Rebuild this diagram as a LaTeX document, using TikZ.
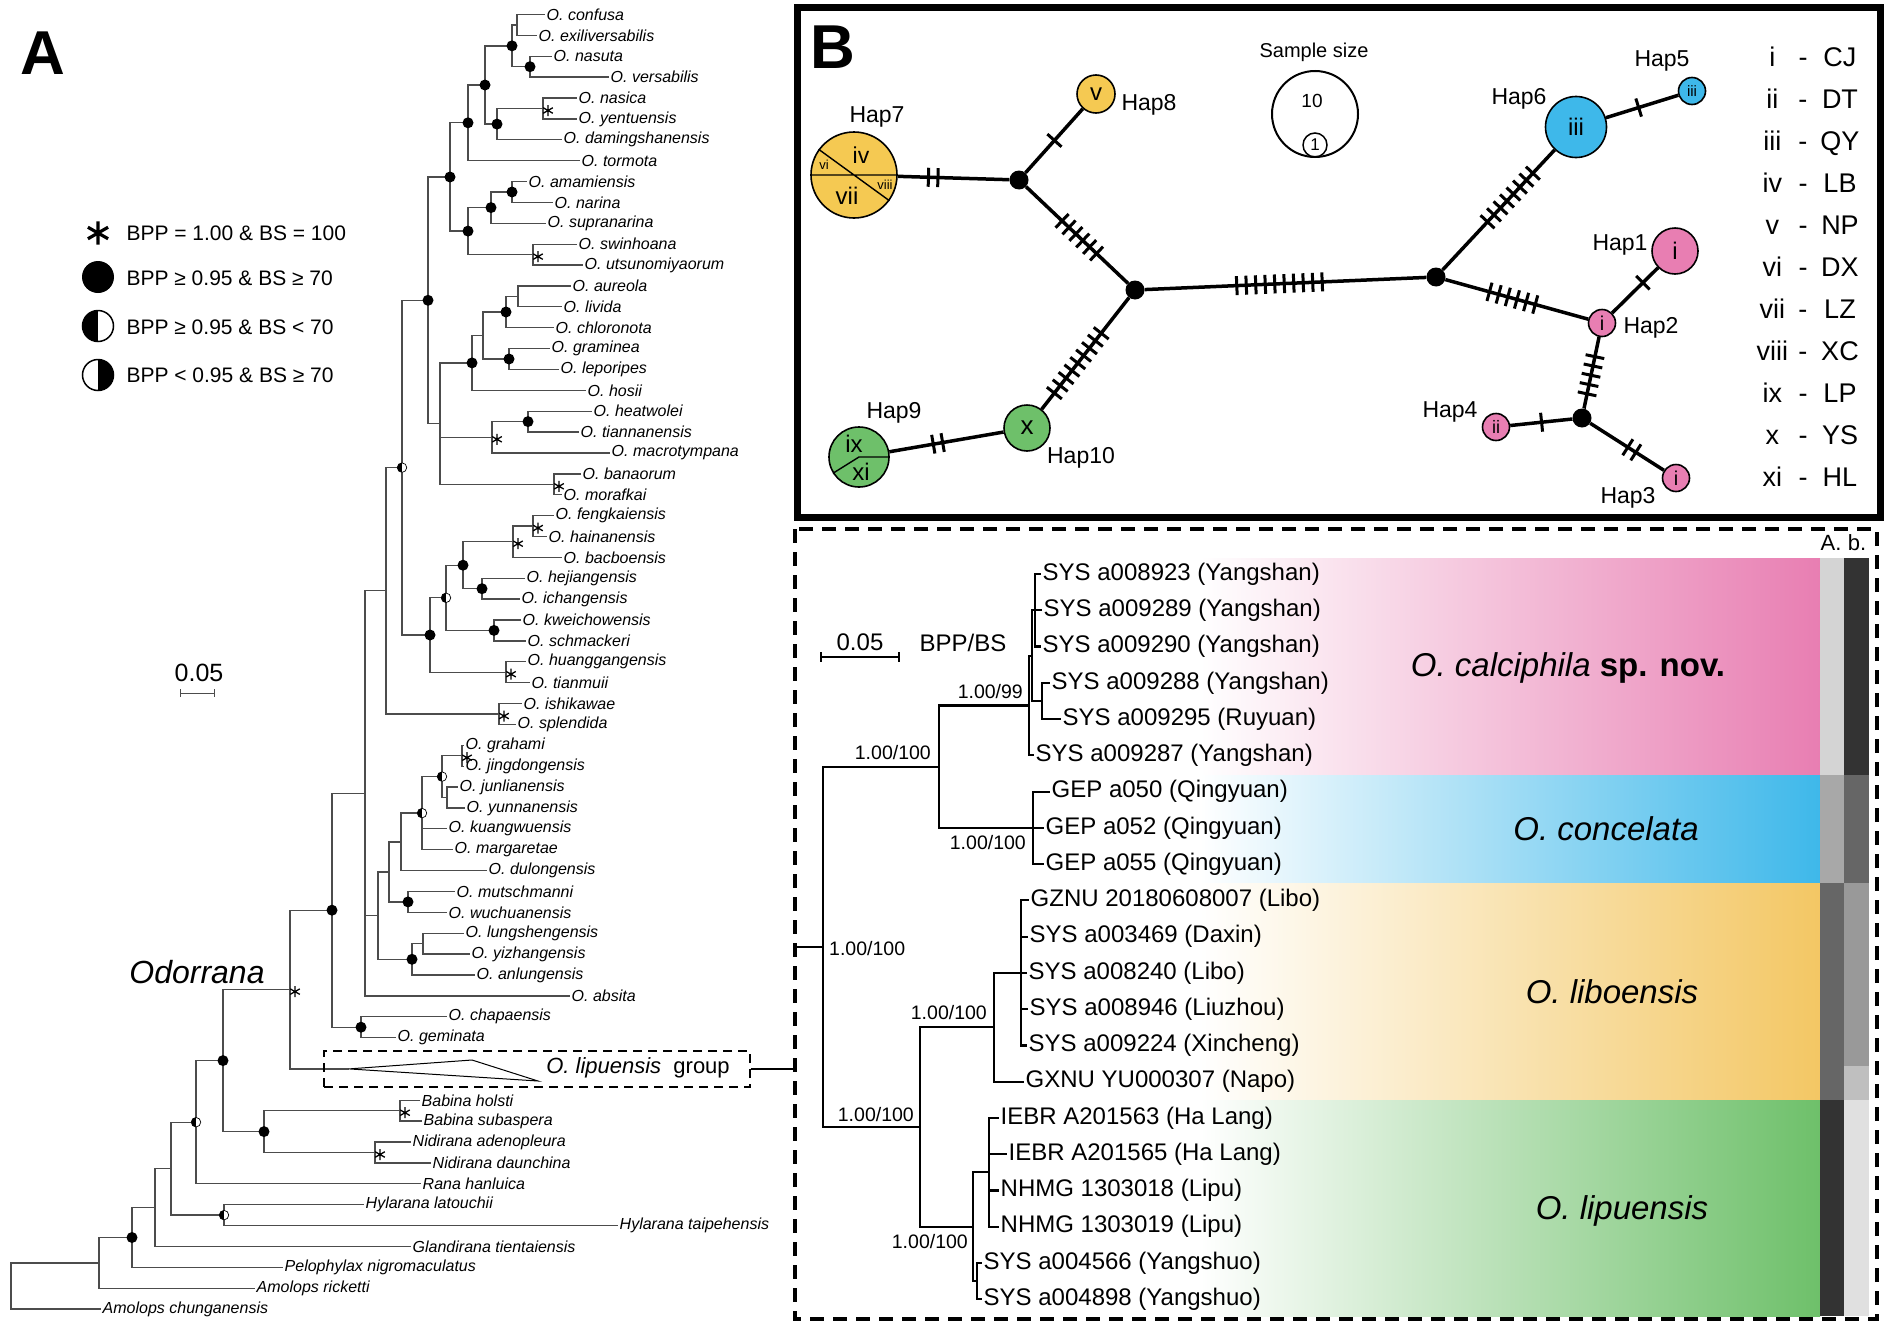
\documentclass[tikz,border=0pt]{standalone}
\usepackage{fontspec}
\setmainfont{Liberation Sans}
\usepackage{xcolor}
\usepackage{tikz}
\usetikzlibrary{calc,arrows}

\definecolor{hapyellow}{RGB}{245,201,82}
\definecolor{hapblue}{RGB}{62,184,234}
\definecolor{happink}{RGB}{232,126,178}
\definecolor{hapgreen}{RGB}{110,192,106}
\definecolor{bandorange}{RGB}{243,199,100}

\begin{document}
\begin{tikzpicture}[
    x=1pt, y=-1pt,
    br/.style={draw=black!70, line width=1.3pt},
    leaf/.style={anchor=west, inner sep=1.5pt, font=\fontsize{16}{18}\selectfont\itshape},
    dot/.style={circle, fill=black, inner sep=0pt, minimum size=11pt},
    half/.style={circle, draw, line width=0.7pt, fill=white, inner sep=0pt, minimum size=9.5pt,
        path picture={\fill[black] (path picture bounding box.south west) rectangle (path picture bounding box.north);}},
    halfr/.style={circle, draw, line width=1.5pt, fill=white, inner sep=0pt, minimum size=31pt,
        path picture={\fill[black] (path picture bounding box.north) rectangle (path picture bounding box.south east);}},
    astw/.style={line width=1.3pt},
    ast/.pic={\draw (0,-5.5) -- (0,5.5) (-4.8,-2.75) -- (4.8,2.75) (-4.8,2.75) -- (4.8,-2.75);},
    keytext/.style={anchor=west, font=\fontsize{21}{24}\selectfont},
    hap/.style={circle, draw, line width=1.6pt, inner sep=0pt, font=\fontsize{24}{24}\selectfont},
    mv/.style={circle, fill=black, inner sep=0pt, minimum size=19pt},
    link/.style={line width=3.5pt},
    mut/.style={line width=3pt},
    haplab/.style={font=\fontsize{23}{26}\selectfont},
    cb/.style={line width=2.2pt},
    tipl/.style={anchor=west, inner sep=1.5pt, font=\fontsize{24}{28}\selectfont},
    sup/.style={inner sep=1pt, font=\fontsize{19.5}{21}\selectfont},
    species/.style={font=\fontsize{33}{36}\selectfont}
]

\fill[white] (0,0) rectangle (1895,1325);
\useasboundingbox (0,0) rectangle (1895,1325);

% ---------------- Panel A ----------------
\node[font=\fontsize{62}{62}\selectfont\bfseries] (labA) at (43,53) {A};

% Legend
\pic[scale=2.1, line width=3.2pt] at (98,233) {ast};
\node[circle, fill=black, inner sep=0pt, minimum size=32pt] (lgDot) at (98,277) {};
\node[half, minimum size=31pt, line width=1.5pt] (lgHalf) at (98,326) {};
\node[halfr] (lgHalfR) at (98,375) {};
\node[keytext] (lgT1) at (123,233) {BPP = 1.00 \& BS = 100};
\node[keytext] (lgT2) at (123,278) {BPP ≥ 0.95 \& BS ≥ 70};
\node[keytext] (lgT3) at (123,327) {BPP ≥ 0.95 \& BS < 70};
\node[keytext] (lgT4) at (123,375) {BPP < 0.95 \& BS ≥ 70};

% Scale
\node[font=\fontsize{25}{28}\selectfont] (scaleA) at (199,673) {0.05};
\draw[|-|, line width=1pt, black!70] (180,693) -- (215,693);
\node[font=\fontsize{32}{36}\selectfont\itshape] (odo) at (197,972) {Odorrana};

% Leaves
\node[leaf] (confusa) at (545,14.5) {O. confusa};
\node[leaf] (exili) at (537,35.4) {O. exiliversabilis};
\node[leaf] (nasuta) at (552,56.3) {O. nasuta};
\node[leaf] (versabilis) at (609,77.1) {O. versabilis};
\node[leaf] (nasica) at (577,98.0) {O. nasica};
\node[leaf] (yentuensis) at (577,118.9) {O. yentuensis};
\node[leaf] (daming) at (562,139.8) {O. damingshanensis};
\node[leaf] (tormota) at (580,160.7) {O. tormota};
\node[leaf] (amamiensis) at (527,181.5) {O. amamiensis};
\node[leaf] (narina) at (553,202.4) {O. narina};
\node[leaf] (supranarina) at (546,223.3) {O. supranarina};
\node[leaf] (swinhoana) at (577,244.2) {O. swinhoana};
\node[leaf] (utsuno) at (583,265.1) {O. utsunomiyaorum};
\node[leaf] (aureola) at (571,285.9) {O. aureola};
\node[leaf] (livida) at (562,306.8) {O. livida};
\node[leaf] (chloronota) at (554,327.7) {O. chloronota};
\node[leaf] (graminea) at (550,348.6) {O. graminea};
\node[leaf] (leporipes) at (559,369.5) {O. leporipes};
\node[leaf] (hosii) at (586,390.3) {O. hosii};
\node[leaf] (heatwolei) at (592,411.2) {O. heatwolei};
\node[leaf] (tiannan) at (579,432.1) {O. tiannanensis};
\node[leaf] (macroty) at (610,453.0) {O. macrotympana};
\node[leaf] (banaorum) at (581,473.9) {O. banaorum};
\node[leaf] (morafkai) at (562,494.7) {O. morafkai};
\node[leaf] (fengkai) at (554,515.6) {O. fengkaiensis};
\node[leaf] (hainan) at (547,536.5) {O. hainanensis};
\node[leaf] (bacbo) at (562,557.4) {O. bacboensis};
\node[leaf] (hejiang) at (525,578.3) {O. hejiangensis};
\node[leaf] (ichang) at (520,599.1) {O. ichangensis};
\node[leaf] (kweichow) at (521,620.0) {O. kweichowensis};
\node[leaf] (schmack) at (526,640.9) {O. schmackeri};
\node[leaf] (huanggang) at (526,661.8) {O. huanggangensis};
\node[leaf] (tianmuii) at (530,682.7) {O. tianmuii};
\node[leaf] (ishikawae) at (522,703.5) {O. ishikawae};
\node[leaf] (splendida) at (516,724.4) {O. splendida};
\node[leaf] (grahami) at (464,745.3) {O. grahami};
\node[leaf] (jingdong) at (464,766.2) {O. jingdongensis};
\node[leaf] (junlian) at (458,787.1) {O. junlianensis};
\node[leaf] (yunnan) at (465,807.9) {O. yunnanensis};
\node[leaf] (kuangwu) at (447,828.8) {O. kuangwuensis};
\node[leaf] (margaretae) at (453,849.7) {O. margaretae};
\node[leaf] (dulong) at (487,870.6) {O. dulongensis};
\node[leaf] (mutsch) at (455,891.5) {O. mutschmanni};
\node[leaf] (wuchuan) at (447,912.3) {O. wuchuanensis};
\node[leaf] (lungsheng) at (464,933.2) {O. lungshengensis};
\node[leaf] (yizhang) at (470,954.1) {O. yizhangensis};
\node[leaf] (anlung) at (475,975.0) {O. anlungensis};
\node[leaf] (absita) at (570,995.9) {O. absita};
\node[leaf] (chapa) at (447,1016.7) {O. chapaensis};
\node[leaf] (geminata) at (396,1037.6) {O. geminata};
\node[leaf] (holsti) at (420,1100.3) {Babina holsti};
\node[leaf] (subaspera) at (422,1121.1) {Babina subaspera};
\node[leaf] (adenop) at (411,1142.0) {Nidirana adenopleura};
\node[leaf] (daunch) at (431,1162.9) {Nidirana daunchina};
\node[leaf] (hanluica) at (421,1183.8) {Rana hanluica};
\node[leaf] (latouchii) at (364,1204.7) {Hylarana latouchii};
\node[leaf] (taipeh) at (618,1225.5) {Hylarana taipehensis};
\node[leaf] (tientai) at (411,1246.4) {Glandirana tientaiensis};
\node[leaf] (pelophylax) at (283,1267.3) {Pelophylax nigromaculatus};
\node[leaf] (ricketti) at (255,1288.2) {Amolops ricketti};
\node[leaf] (chungan) at (101,1309.1) {Amolops chunganensis};

% Internal nodes
\coordinate (nConfEx) at (517,25.0);
\coordinate (nNasVer) at (530,66.7);
\coordinate (nA1) at (512,45.85);
\coordinate (nNasYen) at (543,108.5);
\coordinate (nDam) at (497,124.1);
\coordinate (nA2) at (485,85.0);
\coordinate (nA3) at (468,122.8);
\coordinate (nAmNar) at (512,192.0);
\coordinate (nSupra) at (491,207.6);
\coordinate (nSwUt) at (533,254.6);
\coordinate (nA4) at (468,231.1);
\coordinate (nA5) at (450,177.0);
\coordinate (nAurLiv) at (518,296.4);
\coordinate (nChl) at (506,312.0);
\coordinate (nGraLep) at (509,359.0);
\coordinate (nB1) at (483,335.5);
\coordinate (nHos) at (472,362.9);
\coordinate (nHeaTia) at (528,421.6);
\coordinate (nMac) at (492,437.3);
\coordinate (nBanMor) at (554,484.3);
\coordinate (nB2) at (440,423.6);
\coordinate (nAB) at (428,300.3);
\coordinate (nFenHai) at (533,526.0);
\coordinate (nBac) at (513,541.7);
\coordinate (nHejIch) at (482,588.7);
\coordinate (nC1) at (463,565.2);
\coordinate (nKweSch) at (494,630.4);
\coordinate (nC2) at (446,597.8);
\coordinate (nHuaTia) at (506,672.2);
\coordinate (nC3) at (430,635.0);
\coordinate (nABC) at (402,467.6);
\coordinate (nIshSpl) at (499,714.0);
\coordinate (nD) at (386,590.8);
\coordinate (nGraJin) at (462,755.7);
\coordinate (nJunYun) at (447,797.5);
\coordinate (nE1) at (442,776.6);
\coordinate (nE2) at (422,813.1);
\coordinate (nE3) at (401,841.9);
\coordinate (nMutWu) at (408,901.9);
\coordinate (nE4) at (389,871.9);
\coordinate (nLunYiz) at (423,943.6);
\coordinate (nAnl) at (412,959.3);
\coordinate (nE5) at (378,915.6);
\coordinate (nF) at (365,793.3);
\coordinate (nChaGem) at (361,1027.2);
\coordinate (nG) at (332,910.2);
\coordinate (nOdo) at (290,989.6);
\coordinate (nBabina) at (400,1110.7);
\coordinate (nNidi) at (375,1152.5);
\coordinate (nBN) at (264,1131.6);
\coordinate (nH) at (223,1060.6);
\coordinate (nRana) at (196,1122.2);
\coordinate (nHyl) at (224,1215.1);
\coordinate (nI) at (171,1168.7);
\coordinate (nGla) at (155,1207.6);
\coordinate (nPel) at (132,1237.5);
\coordinate (nAmo) at (99,1262.9);
\coordinate (nRoot) at (11,1286.0);

% Branches
\draw[br] (nConfEx) |- (confusa.west) (nConfEx) |- (exili.west);
\draw[br] (nNasVer) |- (nasuta.west) (nNasVer) |- (versabilis.west);
\draw[br] (nA1) |- (nConfEx) (nA1) |- (nNasVer);
\draw[br] (nNasYen) |- (nasica.west) (nNasYen) |- (yentuensis.west);
\draw[br] (nDam) |- (nNasYen) (nDam) |- (daming.west);
\draw[br] (nA2) |- (nA1) (nA2) |- (nDam);
\draw[br] (nA3) |- (nA2) (nA3) |- (tormota.west);
\draw[br] (nAmNar) |- (amamiensis.west) (nAmNar) |- (narina.west);
\draw[br] (nSupra) |- (nAmNar) (nSupra) |- (supranarina.west);
\draw[br] (nSwUt) |- (swinhoana.west) (nSwUt) |- (utsuno.west);
\draw[br] (nA4) |- (nSupra) (nA4) |- (nSwUt);
\draw[br] (nA5) |- (nA3) (nA5) |- (nA4);
\draw[br] (nAurLiv) |- (aureola.west) (nAurLiv) |- (livida.west);
\draw[br] (nChl) |- (nAurLiv) (nChl) |- (chloronota.west);
\draw[br] (nGraLep) |- (graminea.west) (nGraLep) |- (leporipes.west);
\draw[br] (nB1) |- (nChl) (nB1) |- (nGraLep);
\draw[br] (nHos) |- (nB1) (nHos) |- (hosii.west);
\draw[br] (nHeaTia) |- (heatwolei.west) (nHeaTia) |- (tiannan.west);
\draw[br] (nMac) |- (nHeaTia) (nMac) |- (macroty.west);
\draw[br] (nBanMor) |- (banaorum.west) (nBanMor) |- (morafkai.west);
\draw[br] (nB2) |- (nHos) (nB2) |- (nMac) (nB2) |- (nBanMor);
\draw[br] (nAB) |- (nA5) (nAB) |- (nB2);
\draw[br] (nFenHai) |- (fengkai.west) (nFenHai) |- (hainan.west);
\draw[br] (nBac) |- (nFenHai) (nBac) |- (bacbo.west);
\draw[br] (nHejIch) |- (hejiang.west) (nHejIch) |- (ichang.west);
\draw[br] (nC1) |- (nBac) (nC1) |- (nHejIch);
\draw[br] (nKweSch) |- (kweichow.west) (nKweSch) |- (schmack.west);
\draw[br] (nC2) |- (nC1) (nC2) |- (nKweSch);
\draw[br] (nHuaTia) |- (huanggang.west) (nHuaTia) |- (tianmuii.west);
\draw[br] (nC3) |- (nC2) (nC3) |- (nHuaTia);
\draw[br] (nABC) |- (nAB) (nABC) |- (nC3);
\draw[br] (nIshSpl) |- (ishikawae.west) (nIshSpl) |- (splendida.west);
\draw[br] (nD) |- (nABC) (nD) |- (nIshSpl);
\draw[br] (nGraJin) |- (grahami.west) (nGraJin) |- (jingdong.west);
\draw[br] (nJunYun) |- (junlian.west) (nJunYun) |- (yunnan.west);
\draw[br] (nE1) |- (nGraJin) (nE1) |- (nJunYun);
\draw[br] (nE2) |- (nE1) (nE2) |- (kuangwu.west) (nE2) |- (margaretae.west);
\draw[br] (nE3) |- (nE2) (nE3) |- (dulong.west);
\draw[br] (nMutWu) |- (mutsch.west) (nMutWu) |- (wuchuan.west);
\draw[br] (nE4) |- (nE3) (nE4) |- (nMutWu);
\draw[br] (nLunYiz) |- (lungsheng.west) (nLunYiz) |- (yizhang.west);
\draw[br] (nAnl) |- (nLunYiz) (nAnl) |- (anlung.west);
\draw[br] (nE5) |- (nE4) (nE5) |- (nAnl);
\draw[br] (nF) |- (nD) (nF) |- (nE5) (nF) |- (absita.west);
\draw[br] (nChaGem) |- (chapa.west) (nChaGem) |- (geminata.west);
\draw[br] (nG) |- (nF) (nG) |- (nChaGem);
\draw[br] (nBabina) |- (holsti.west) (nBabina) |- (subaspera.west);
\draw[br] (nNidi) |- (adenop.west) (nNidi) |- (daunch.west);
\draw[br] (nBN) |- (nBabina) (nBN) |- (nNidi);
\draw[br] (nH) |- (nOdo) (nH) |- (nBN);
\draw[br] (nRana) |- (nH) (nRana) |- (hanluica.west);
\draw[br] (nHyl) |- (latouchii.west) (nHyl) |- (taipeh.west);
\draw[br] (nI) |- (nRana) (nI) |- (nHyl);
\draw[br] (nGla) |- (nI) (nGla) |- (tientai.west);
\draw[br] (nPel) |- (nGla) (nPel) |- (pelophylax.west);
\draw[br] (nAmo) |- (nPel) (nAmo) |- (ricketti.west);
\draw[br] (nRoot) |- (nAmo) (nRoot) |- (chungan.west);

% Collapsed O. lipuensis group
\coordinate (lipApex) at (349,1068.9);
\coordinate (lipTop) at (472,1060);
\coordinate (lipBot) at (538,1081);
\draw[br] (nOdo) |- (nG) (nOdo) |- (lipApex);
\draw[line width=1pt] (lipApex) -- (lipTop) -- (lipBot) -- cycle;
\node[draw, line width=1.4pt, dash pattern=on 9pt off 6pt, minimum width=426pt, minimum height=36pt, inner sep=0pt] (lipbox) at (537,1069) {};
\node[font=\fontsize{22}{24}\selectfont] (liplab) at (638,1068) {\textit{O. lipuensis}\ \ group};

% Support
\foreach \n in {nA1,nNasVer,nA2,nDam,nA3,nAmNar,nSupra,nA4,nA5,nChl,nGraLep,nHos,nHeaTia,nAB,nC1,nHejIch,nKweSch,nC3,nMutWu,nAnl,nChaGem,nG,nH,nBN,nPel}
    \node[dot] (d\n) at (\n) {};
\foreach \n in {nC2,nABC,nE1,nE2,nRana,nHyl}
    \node[half] (h\n) at (\n) {};
\foreach \n in {nNasYen,nSwUt,nMac,nBanMor,nFenHai,nBac,nHuaTia,nIshSpl,nGraJin,nOdo,nBabina,nNidi}
    \path (\n) ++(5,2) pic[astw] {ast};

% ---------------- Panel B ----------------
\draw[line width=7pt] (797,7) rectangle (1880,517);
\node[font=\fontsize{62}{62}\selectfont\bfseries] (labB) at (833,47) {B};

% Haplotypes
\node[hap, fill=hapyellow, minimum size=86pt] (hap7) at (854,175) {};
\node[hap, fill=hapyellow, minimum size=38pt] (hap8) at (1096,94) {v};
\node[hap, fill=hapgreen, minimum size=60pt] (hap9) at (859,457) {};
\node[hap, fill=hapgreen, minimum size=46pt, font=\fontsize{26}{26}\selectfont] (hap10) at (1027,428) {x};
\node[hap, fill=hapblue, minimum size=61pt] (hap6) at (1576,127) {iii};
\node[hap, fill=hapblue, minimum size=27pt, font=\fontsize{15}{15}\selectfont] (hap5) at (1692,91) {iii};
\node[hap, fill=happink, minimum size=46pt] (hap1) at (1675,251) {i};
\node[hap, fill=happink, minimum size=27pt, font=\fontsize{20}{20}\selectfont] (hap2) at (1602,323) {i};
\node[hap, fill=happink, minimum size=27pt, font=\fontsize{20}{20}\selectfont] (hap3) at (1676,478) {i};
\node[hap, fill=happink, minimum size=27pt, font=\fontsize{18}{18}\selectfont] (hap4) at (1496,427) {ii};

% Median vectors
\node[mv] (j1) at (1019,180) {};
\node[mv] (j2) at (1135,290) {};
\node[mv] (j3) at (1436,277) {};
\node[mv] (j4) at (1582,418) {};

% Pie slices
\draw[line width=1.4pt] (hap7.180) -- (hap7.0) (hap7.144) -- (hap7.-36);
\node[font=\fontsize{23}{23}\selectfont] (s4) at (861,155) {iv};
\node[font=\fontsize{13}{13}\selectfont] (s6) at (824,165) {vi};
\node[font=\fontsize{24}{24}\selectfont] (s7) at (847,196) {vii};
\node[font=\fontsize{13}{13}\selectfont] (s8) at (885,185) {viii};
\draw[line width=1.4pt] (hap9.0) -- (hap9.center) -- (hap9.212);
\node[font=\fontsize{24}{24}\selectfont] (s9) at (854,444) {ix};
\node[font=\fontsize{24}{24}\selectfont] (s11) at (861,472) {xi};

% Links
\draw[link] (hap7) -- (j1);
\draw[link] (j1) -- (hap8);
\draw[link] (j1) -- (j2);
\draw[link] (j2) -- (hap10);
\draw[link] (hap10) -- (hap9);
\draw[link] (j2) -- (j3);
\draw[link] (j3) -- (hap6);
\draw[link] (hap6) -- (hap5);
\draw[link] (j3) -- (hap2);
\draw[link] (hap2) -- (hap1);
\draw[link] (hap2) -- (j4);
\draw[link] (j4) -- (hap4);
\draw[link] (j4) -- (hap3);

% Mutation steps
\foreach \a/\b/\t/\n in {hap7/j1/0.48/2, j1/hap8/0.46/1, j1/j2/0.52/6, j2/hap10/0.53/9, hap10/hap9/0.53/2, j2/j3/0.48/10, j3/hap6/0.53/8, hap6/hap5/0.54/1, j3/hap2/0.46/6, hap2/hap1/0.56/1, hap2/j4/0.55/5, j4/hap4/0.47/1, j4/hap3/0.53/2} {
    \coordinate (mc) at ($(\a)!\t!(\b)$);
    \foreach \k in {1,...,\n} {
        \coordinate (mk) at ($(mc)!{(\k-(\n+1)/2)*9.5pt}!(\b)$);
        \draw[mut] ($(mk)!9.5pt!90:(\b)$) -- ($(mk)!9.5pt!-90:(\b)$);
    }
}

% Labels
\node[haplab] (l7) at (877,117) {Hap7};
\node[haplab, anchor=west] (l8) at (1118,105) {Hap8};
\node[haplab] (l9) at (894,413) {Hap9};
\node[haplab] (l10) at (1081,458) {Hap10};
\node[haplab] (l6) at (1519,99) {Hap6};
\node[haplab] (l5) at (1662,61) {Hap5};
\node[haplab] (l1) at (1620,245) {Hap1};
\node[haplab] (l2) at (1651,328) {Hap2};
\node[haplab] (l4) at (1450,412) {Hap4};
\node[haplab] (l3) at (1628,498) {Hap3};

% Sample size
\node[font=\fontsize{20}{22}\selectfont] (ssTitle) at (1314,52) {Sample size};
\node[circle, draw, line width=2pt, inner sep=0pt, minimum size=86pt] (ss10) at (1315,114) {};
\node[font=\fontsize{19}{19}\selectfont] (ss10lab) at (1312,101) {10};
\node[circle, draw, line width=1.5pt, inner sep=0pt, minimum size=24pt, font=\fontsize{17}{17}\selectfont] (ss1) at (1315,145) {1};

% Localities
\node[inner sep=0pt, font=\fontsize{27}{42}\selectfont] (key) at (1808,268) {%
    \begin{tabular}{@{}c@{\hspace{10.5pt}}c@{\hspace{13pt}}c@{}}
    i & - & CJ\\ ii & - & DT\\ iii & - & QY\\ iv & - & LB\\ v & - & NP\\ vi & - & DX\\
    vii & - & LZ\\ viii & - & XC\\ ix & - & LP\\ x & - & YS\\ xi & - & HL
    \end{tabular}};

% ---------------- Panel C ----------------
% Species bands
\shade[left color=white, right color=happink] (1200,558) rectangle (1820,775);
\shade[left color=white, right color=hapblue] (1200,775) rectangle (1820,883);
\shade[left color=white, right color=bandorange] (1200,883) rectangle (1820,1100);
\shade[left color=white, right color=hapgreen] (1200,1100) rectangle (1820,1316);
\fill[black!17] (1820,558) rectangle (1844,775);
\fill[black!34] (1820,775) rectangle (1844,883);
\fill[black!60] (1820,883) rectangle (1844,1100);
\fill[black!80] (1820,1100) rectangle (1844,1316);
\fill[black!80] (1844,558) rectangle (1869,775);
\fill[black!60] (1844,775) rectangle (1869,883);
\fill[black!40] (1844,883) rectangle (1869,1066);
\fill[black!25] (1844,1066) rectangle (1869,1100);
\fill[black!12] (1844,1100) rectangle (1869,1316);
\node[font=\fontsize{22}{22}\selectfont] (colA) at (1831,543) {A.};
\node[font=\fontsize{22}{22}\selectfont] (colB) at (1857,543) {b.};
\node[species] (spCal) at (1568,668) {\textit{O. calciphila} \textbf{sp. nov.}};
\node[species] (spCon) at (1606,829) {\textit{O. concelata}};
\node[species] (spLib) at (1612,992) {\textit{O. liboensis}};
\node[species] (spLip) at (1622,1211) {\textit{O. lipuensis}};

\draw[line width=4pt, dash pattern=on 14pt off 9pt] (795,529) rectangle (1877,1319);
\coordinate (cLink) at (795,1069);
\draw[line width=2.2pt] (lipbox.east) -- (cLink);

% Scale
\node[font=\fontsize{24}{26}\selectfont] (scaleC) at (860,642) {0.05};
\draw[|-|, line width=1.6pt] (820,657) -- (900,657);
\node[font=\fontsize{24}{26}\selectfont] (bppbs) at (963,643) {BPP/BS};

% Specimens
\node[tipl] (t0) at (1041,574.0) {SYS a008923 (Yangshan)};
\node[tipl] (t1) at (1042,610.3) {SYS a009289 (Yangshan)};
\node[tipl] (t2) at (1041,646.5) {SYS a009290 (Yangshan)};
\node[tipl] (t3) at (1050,682.8) {SYS a009288 (Yangshan)};
\node[tipl] (t4) at (1061,719.0) {SYS a009295 (Ruyuan)};
\node[tipl] (t5) at (1034,755.3) {SYS a009287 (Yangshan)};
\node[tipl] (t6) at (1050,791.6) {GEP a050 (Qingyuan)};
\node[tipl] (t7) at (1044,827.8) {GEP a052 (Qingyuan)};
\node[tipl] (t8) at (1044,864.1) {GEP a055 (Qingyuan)};
\node[tipl] (t9) at (1029,900.3) {GZNU 20180608007 (Libo)};
\node[tipl] (t10) at (1028,936.6) {SYS a003469 (Daxin)};
\node[tipl] (t11) at (1027,972.9) {SYS a008240 (Libo)};
\node[tipl] (t12) at (1028,1009.1) {SYS a008946 (Liuzhou)};
\node[tipl] (t13) at (1027,1045.4) {SYS a009224 (Xincheng)};
\node[tipl] (t14) at (1024,1081.6) {GXNU YU000307 (Napo)};
\node[tipl] (t15) at (999,1117.9) {IEBR A201563 (Ha Lang)};
\node[tipl] (t16) at (1007,1154.2) {IEBR A201565 (Ha Lang)};
\node[tipl] (t17) at (999,1190.4) {NHMG 1303018 (Lipu)};
\node[tipl] (t18) at (999,1226.7) {NHMG 1303019 (Lipu)};
\node[tipl] (t19) at (982,1262.9) {SYS a004566 (Yangshuo)};
\node[tipl] (t20) at (982,1299.2) {SYS a004898 (Yangshuo)};

\coordinate (c1) at (1035,610.3);
\coordinate (c2) at (1042,700.9);
\coordinate (c3) at (1032,655.6);
\coordinate (c4) at (1029,705.5);
\coordinate (c5) at (1033,827.8);
\coordinate (c6) at (939,766.7);
\coordinate (c7) at (1021,972.9);
\coordinate (c8) at (994,1027.3);
\coordinate (c9) at (989,1172.3);
\coordinate (c10) at (977,1281.1);
\coordinate (c11) at (973,1226.7);
\coordinate (c12) at (920,1127.0);
\coordinate (c13) at (823,946.9);
\coordinate (cIn) at (795,946.9);

\draw[cb] (c1) |- (t0.west) (c1) |- (t1.west) (c1) |- (t2.west);
\draw[cb] (c2) |- (t3.west) (c2) |- (t4.west);
\draw[cb] (c3) |- (c1) (c3) |- (c2);
\draw[cb] (c4) |- (c3) (c4) |- (t5.west);
\draw[cb] (c5) |- (t6.west) (c5) |- (t7.west) (c5) |- (t8.west);
\draw[cb] (c6) |- (c4) (c6) |- (c5);
\draw[cb] (c7) |- (t9.west) (c7) |- (t10.west) (c7) |- (t11.west) (c7) |- (t12.west) (c7) |- (t13.west);
\draw[cb] (c8) |- (c7) (c8) |- (t14.west);
\draw[cb] (c9) |- (t15.west) (c9) |- (t16.west) (c9) |- (t17.west) (c9) |- (t18.west);
\draw[cb] (c10) |- (t19.west) (c10) |- (t20.west);
\draw[cb] (c11) |- (c9) (c11) |- (c10);
\draw[cb] (c12) |- (c8) (c12) |- (c11);
\draw[cb] (c13) |- (c6) (c13) |- (c12);
\draw[cb] (cIn) -- (c13);

% Support values
\node[sup, anchor=east] (s99) at (1024,692) {1.00/99};
\node[sup, anchor=east] (sCal) at (932,753) {1.00/100};
\node[sup, anchor=east] (sCon) at (1027,843) {1.00/100};
\node[sup, anchor=west] (sRoot) at (828,949) {1.00/100};
\node[sup, anchor=east] (sLib) at (988,1013) {1.00/100};
\node[sup, anchor=east] (sLL) at (915,1115) {1.00/100};
\node[sup, anchor=east] (sLip) at (969,1242) {1.00/100};

\end{tikzpicture}
\end{document}
